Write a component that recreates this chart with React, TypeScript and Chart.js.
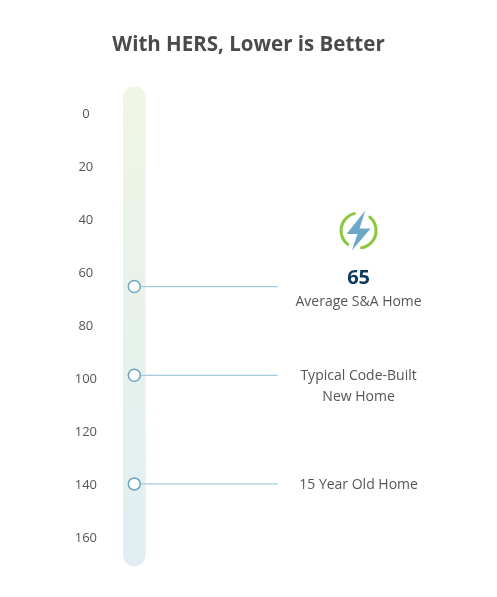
import React, { useEffect, useRef } from "react";
import { Chart, registerables } from "chart.js";

Chart.register(...registerables);

const TITLE = "With HERS, Lower is Better";
const TICK_VALUES = [0, 20, 40, 60, 80, 100, 120, 140, 160];
const SCALE_MIN = -10;
const SCALE_MAX = 171;
const HOME_SCORES = [65.5, 99, 140];
const HOME_LABELS = [["Average S&A Home"], ["Typical Code-Built", "New Home"], ["15 Year Old Home"]];
const HIGHLIGHT_INDEX = 0;
const HIGHLIGHT_TEXT = "65";

// horizontal layout positions (in x-scale units)
const X_MIN = 0;
const X_MAX = 100;
const BAR_X = 6.4;
const LINE_END_X = 44.2;
const LABEL_X = 65.5;

const FONT = "'Open Sans', sans-serif";

function drawIcon(ctx: CanvasRenderingContext2D, cx: number, cy: number) {
  const d = Math.PI / 180;
  ctx.save();
  ctx.translate(cx, cy);
  ctx.strokeStyle = "#8dc63f";
  ctx.lineWidth = 3;
  ctx.lineCap = "round";
  const r = 17.5;
  ctx.beginPath();
  ctx.arc(0, 0, r, 128 * d, 256 * d);
  ctx.stroke();
  ctx.beginPath();
  ctx.arc(0, 0, r, -50 * d, 80 * d);
  ctx.stroke();
  ctx.fillStyle = "#6da7c8";
  ctx.beginPath();
  ctx.moveTo(6.7, -20);
  ctx.lineTo(-12, 3.5);
  ctx.lineTo(-1, 3.5);
  ctx.lineTo(-6.7, 20);
  ctx.lineTo(12, -2);
  ctx.lineTo(1, -2);
  ctx.closePath();
  ctx.fill();
  ctx.restore();
}

const labelPlugin = {
  id: "homeLabels",
  afterDatasetsDraw(chart: any) {
    const { ctx, scales } = chart;
    const x = scales.x;
    const y = scales.y;
    const cx = x.getPixelForValue(LABEL_X);
    ctx.save();
    ctx.textAlign = "center";
    ctx.textBaseline = "middle";
    HOME_SCORES.forEach((v, i) => {
      const py = y.getPixelForValue(v);
      const highlight = i === HIGHLIGHT_INDEX;
      const startY = highlight ? py + 15 : py + 1;
      ctx.font = `400 14px ${FONT}`;
      ctx.fillStyle = "#555555";
      HOME_LABELS[i].forEach((t, k) => ctx.fillText(t, cx, startY + k * 21));
      if (highlight) {
        ctx.font = `700 20px ${FONT}`;
        ctx.fillStyle = "#0e3b5c";
        ctx.fillText(HIGHLIGHT_TEXT, cx, py - 8);
        drawIcon(ctx, cx, py - 56);
      }
    });
    ctx.restore();
  },
};

export default function App() {
  const ref = useRef<HTMLCanvasElement>(null);
  useEffect(() => {
    if (!ref.current) return;
    const gradient = (c: any) => {
      const a = c.chart.chartArea;
      if (!a) return "#e8f2ea";
      const g = c.chart.ctx.createLinearGradient(0, a.top, 0, a.bottom);
      g.addColorStop(0, "#eff6e4");
      g.addColorStop(1, "#e0eef3");
      return g;
    };
    const chart = new Chart(ref.current, {
      type: "bar",
      data: {
        datasets: [
          {
            type: "scatter",
            data: HOME_SCORES.map((v) => ({ x: BAR_X, y: v })),
            pointRadius: 6,
            pointBackgroundColor: "#ffffff",
            pointBorderColor: "#6fa6c3",
            pointBorderWidth: 1.5,
            order: 1,
          } as any,
          ...HOME_SCORES.map(
            (v) =>
              ({
                type: "line",
                data: [
                  { x: BAR_X, y: v },
                  { x: LINE_END_X, y: v },
                ],
                borderColor: "#a6c9dc",
                borderWidth: 1.3,
                pointRadius: 0,
                order: 2,
              } as any)
          ),
          {
            type: "bar",
            data: [{ x: BAR_X, y: [SCALE_MIN, SCALE_MAX] }],
            backgroundColor: gradient,
            barThickness: 22,
            borderRadius: 11,
            borderSkipped: false,
            order: 3,
          } as any,
        ],
      },
      options: {
        responsive: true,
        maintainAspectRatio: false,
        animation: false,
        layout: { padding: { left: 0, right: 0, top: 0, bottom: 31 } },
        plugins: {
          legend: { display: false },
          tooltip: { enabled: false },
          title: {
            display: true,
            text: TITLE,
            color: "#4a4a4a",
            font: { family: FONT, size: 20.5, weight: "bold" },
            padding: { top: 33, bottom: 29 },
          },
        },
        scales: {
          x: { type: "linear", min: X_MIN, max: X_MAX, display: false, offset: false },
          y: {
            type: "linear",
            reverse: true,
            min: SCALE_MIN,
            max: SCALE_MAX,
            grid: { display: false },
            border: { display: false },
            afterBuildTicks: (s: any) => {
              s.ticks = TICK_VALUES.map((v) => ({ value: v }));
            },
            afterFit: (s: any) => {
              s.width = 110;
            },
            ticks: {
              color: "#555555",
              font: { family: FONT, size: 13 },
              padding: 5,
              labelOffset: 1,
              crossAlign: "center",
            },
          },
        },
      } as any,
      plugins: [labelPlugin],
    });
    return () => chart.destroy();
  }, []);
  return (
    <div style={{ position: "absolute", left: 0, top: 0, width: 497, height: 597 }}>
      <canvas ref={ref} />
    </div>
  );
}
